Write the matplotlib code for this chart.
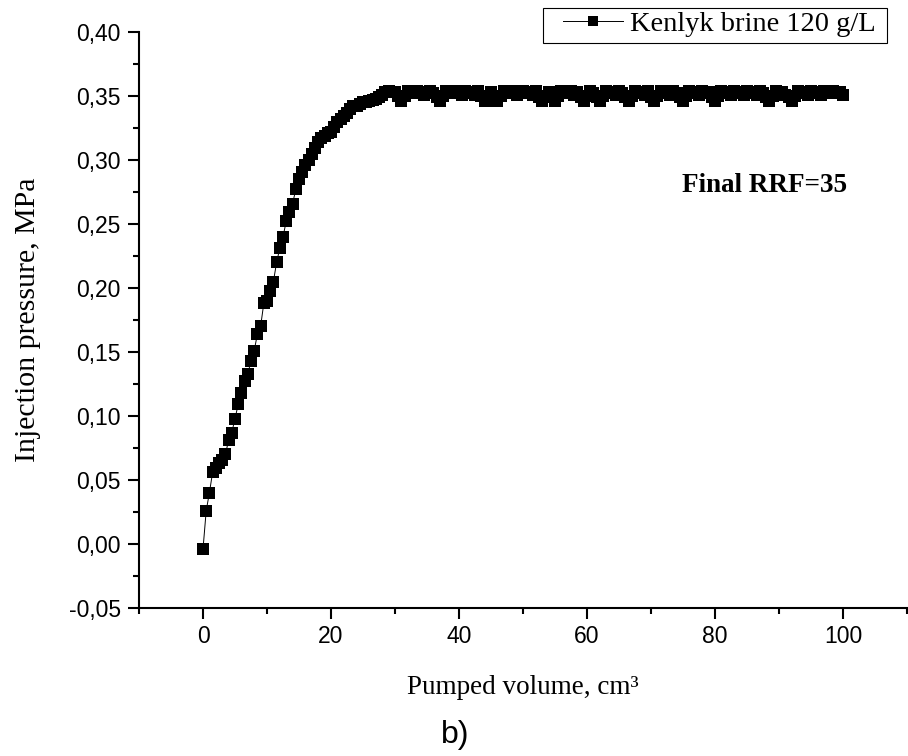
import matplotlib
matplotlib.use("Agg")
import matplotlib.pyplot as plt
from matplotlib.ticker import MultipleLocator, FuncFormatter
from matplotlib.patches import Rectangle

# Pumped volume, cm3
volume = [
    0.0, 0.5, 1.0, 1.5, 2.0, 2.5, 3.0, 3.5, 4.0, 4.5,
    5.0, 5.5, 6.0, 6.5, 7.0, 7.5, 8.0, 8.5, 9.0, 9.5,
    10.0, 10.5, 11.0, 11.5, 12.0, 12.5, 13.0, 13.5, 14.0, 14.5,
    15.0, 15.5, 16.0, 16.5, 17.0, 17.5, 18.0, 18.5, 19.0, 19.5,
    20.0, 20.5, 21.0, 21.5, 22.0, 22.5, 23.0, 23.5, 24.0, 24.5,
    25.0, 25.5, 26.0, 26.5, 27.0, 27.5, 28.0, 28.5, 29.0, 29.5,
    30.0, 30.5, 31.0, 31.5, 32.0, 32.5, 33.0, 33.5, 34.0, 34.5,
    35.0, 35.5, 36.0, 36.5, 37.0, 37.5, 38.0, 38.5, 39.0, 39.5,
    40.0, 40.5, 41.0, 41.5, 42.0, 42.5, 43.0, 43.5, 44.0, 44.5,
    45.0, 45.5, 46.0, 46.5, 47.0, 47.5, 48.0, 48.5, 49.0, 49.5,
    50.0, 50.5, 51.0, 51.5, 52.0, 52.5, 53.0, 53.5, 54.0, 54.5,
    55.0, 55.5, 56.0, 56.5, 57.0, 57.5, 58.0, 58.5, 59.0, 59.5,
    60.0, 60.5, 61.0, 61.5, 62.0, 62.5, 63.0, 63.5, 64.0, 64.5,
    65.0, 65.5, 66.0, 66.5, 67.0, 67.5, 68.0, 68.5, 69.0, 69.5,
    70.0, 70.5, 71.0, 71.5, 72.0, 72.5, 73.0, 73.5, 74.0, 74.5,
    75.0, 75.5, 76.0, 76.5, 77.0, 77.5, 78.0, 78.5, 79.0, 79.5,
    80.0, 80.5, 81.0, 81.5, 82.0, 82.5, 83.0, 83.5, 84.0, 84.5,
    85.0, 85.5, 86.0, 86.5, 87.0, 87.5, 88.0, 88.5, 89.0, 89.5,
    90.0, 90.5, 91.0, 91.5, 92.0, 92.5, 93.0, 93.5, 94.0, 94.5,
    95.0, 95.5, 96.0, 96.5, 97.0, 97.5, 98.0, 98.5, 99.0, 99.5,
    100.0,
]

# Injection pressure, MPa
pressure = [
    -0.004, 0.026, 0.040, 0.056, 0.059, 0.063, 0.066, 0.070, 0.081, 0.087,
    0.098, 0.109, 0.118, 0.127, 0.133, 0.143, 0.151, 0.164, 0.170, 0.188,
    0.190, 0.198, 0.205, 0.220, 0.231, 0.240, 0.252, 0.259, 0.266, 0.277,
    0.285, 0.291, 0.296, 0.300, 0.305, 0.309, 0.314, 0.317, 0.319, 0.321,
    0.322, 0.326, 0.330, 0.332, 0.334, 0.337, 0.340, 0.342, 0.342, 0.344,
    0.345, 0.345, 0.346, 0.347, 0.348, 0.349, 0.351, 0.353, 0.354, 0.353,
    0.353, 0.350, 0.346, 0.350, 0.354, 0.353, 0.352, 0.354, 0.353, 0.351,
    0.352, 0.354, 0.352, 0.349, 0.346, 0.350, 0.354, 0.353, 0.352, 0.354,
    0.353, 0.351, 0.354, 0.353, 0.352, 0.351, 0.354, 0.350, 0.346, 0.349,
    0.353, 0.349, 0.346, 0.350, 0.354, 0.352, 0.353, 0.354, 0.351, 0.353,
    0.354, 0.352, 0.353, 0.351, 0.354, 0.349, 0.346, 0.350, 0.353, 0.349,
    0.346, 0.350, 0.354, 0.352, 0.353, 0.354, 0.351, 0.353, 0.349, 0.346,
    0.350, 0.354, 0.352, 0.349, 0.346, 0.350, 0.354, 0.352, 0.353, 0.351,
    0.354, 0.352, 0.349, 0.346, 0.350, 0.354, 0.352, 0.353, 0.351, 0.354,
    0.349, 0.346, 0.350, 0.354, 0.352, 0.353, 0.351, 0.354, 0.352, 0.349,
    0.346, 0.350, 0.354, 0.352, 0.353, 0.351, 0.354, 0.352, 0.353, 0.349,
    0.346, 0.350, 0.354, 0.352, 0.353, 0.351, 0.354, 0.352, 0.353, 0.351,
    0.354, 0.352, 0.353, 0.351, 0.354, 0.352, 0.349, 0.346, 0.350, 0.354,
    0.352, 0.353, 0.351, 0.349, 0.346, 0.350, 0.354, 0.352, 0.353, 0.351,
    0.354, 0.352, 0.353, 0.351, 0.354, 0.353, 0.352, 0.354, 0.352, 0.353,
    0.351,
]

series_label = "Kenlyk brine 120 g/L"
annotation = "Final RRF=35"
x_ticks = [0, 20, 40, 60, 80, 100]

SERIF = ["Liberation Serif", "DejaVu Serif"]
SANS = ["Liberation Sans", "DejaVu Sans"]

fig = plt.figure(figsize=(9.08, 7.56), dpi=100)
ax = fig.add_axes([139 / 908, 1 - 608 / 756, (907 - 139) / 908, (608 - 32) / 756])

ax.plot(volume, pressure, color="black", linewidth=0.7, marker="s",
        markersize=8.6, markeredgewidth=0, markerfacecolor="black",
        label=series_label, zorder=3)

ax.set_xlim(-10, 110)
ax.set_ylim(-0.05, 0.40)
ax.set_xticks(x_ticks)
ax.xaxis.set_minor_locator(MultipleLocator(10))
ax.yaxis.set_major_locator(MultipleLocator(0.05))
ax.yaxis.set_minor_locator(MultipleLocator(0.025))
ax.yaxis.set_major_formatter(FuncFormatter(lambda v, p: f"{v:.2f}".replace(".", ",").replace("-0,00", "0,00")))

for s in ("top", "right"):
    ax.spines[s].set_visible(False)
for s in ("left", "bottom"):
    ax.spines[s].set_linewidth(1.5)

ax.tick_params(which="major", direction="out", length=8, width=1.5,
               labelsize=16.5, pad=4)
ax.tick_params(axis="y", which="major", pad=5)
ax.tick_params(which="minor", direction="out", length=4, width=1.5)
for lab in ax.get_xticklabels() + ax.get_yticklabels():
    lab.set_fontfamily(SANS)

ax.set_xlabel("Pumped volume, cm\u00b3", fontfamily=SERIF, fontsize=19.5, labelpad=20)
ax.set_ylabel("Injection pressure, MPa", fontfamily=SERIF, fontsize=21.5, labelpad=20)

ax.text(0.814, 0.734, annotation, transform=ax.transAxes, ha="center", va="center",
        fontfamily=SERIF, fontsize=19.5, fontweight="bold")

leg = fig.legend(handles=ax.get_lines(), loc="upper right",
                 bbox_to_anchor=(880 / 908, 1 - 7 / 756),
                 bbox_transform=fig.transFigure, borderaxespad=0,
                 prop={"family": SERIF, "size": 20.5}, frameon=False,
                 handlelength=2.1, handletextpad=0.25,
                 borderpad=0.15, markerscale=0.8)
fig.add_artist(Rectangle((543 / 908, 1 - 43 / 756), (887 - 543) / 908, 35 / 756,
                         transform=fig.transFigure, fill=False,
                         edgecolor="black", linewidth=0.8))

fig.text(455 / 908, 1 - 735 / 756, "b)", ha="center", va="center",
         fontfamily=SANS, fontsize=23)

fig.savefig("out.png", dpi=100)
